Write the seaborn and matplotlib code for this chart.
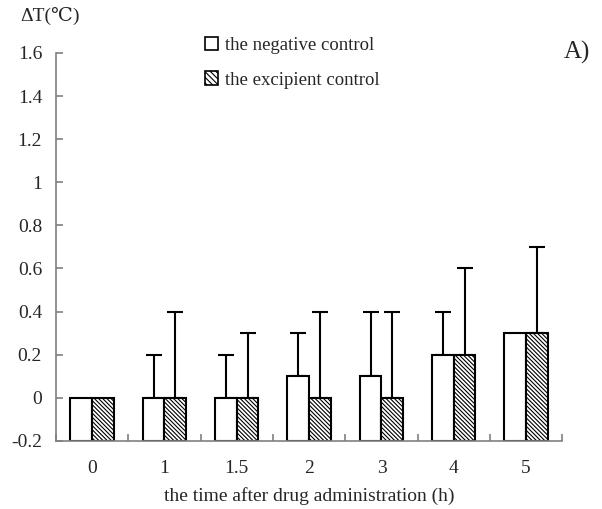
import matplotlib
matplotlib.use("Agg")
import matplotlib.pyplot as plt
import seaborn as sns
import pandas as pd
import numpy as np
from matplotlib.patches import Patch

sns.set_style("white")
plt.rcParams['font.family'] = ['Liberation Serif', 'DejaVu Serif']
plt.rcParams['hatch.linewidth'] = 0.8

times = ["0", "1", "1.5", "2", "3", "4", "5"]
negative_mean = [0, 0, 0, 0.1, 0.1, 0.2, 0.3]
negative_err = [0, 0.2, 0.2, 0.2, 0.3, 0.2, 0]
excipient_mean = [0, 0, 0, 0, 0, 0.2, 0.3]
excipient_err = [0, 0.4, 0.3, 0.4, 0.4, 0.4, 0.4]
groups = ["the negative control", "the excipient control"]
yticks = [-0.2, 0, 0.2, 0.4, 0.6, 0.8, 1.0, 1.2, 1.4, 1.6]
ytick_labels = ["-0.2", "0", "0.2", "0.4", "0.6", "0.8", "1", "1.2", "1.4", "1.6"]
y_floor = -0.2
FS = 14

df = pd.DataFrame({
    "time": times * 2,
    "value": negative_mean + excipient_mean,
    "group": [groups[0]] * len(times) + [groups[1]] * len(times),
})

fig = plt.figure(figsize=(6.02, 5.09), dpi=100)
ax = fig.add_axes([0.093, 0.134, 0.841, 0.762])

sns.barplot(data=df, x="time", y="value", hue="group", order=times,
            hue_order=groups, palette=["white", "white"], edgecolor="black",
            linewidth=1.5, width=0.6, errorbar=None, ax=ax, legend=False)

n = len(times)
patches = [p for p in ax.patches][:2 * n]
means = negative_mean + excipient_mean
errs = negative_err + excipient_err
for i, p in enumerate(patches):
    # bars rise from the bottom of the value axis, as in the original chart
    top = p.get_y() + p.get_height()
    p.set_y(y_floor)
    p.set_height(top - y_floor)
    if i >= n:
        p.set_hatch("\\" * 8)
    p.set_zorder(2)

for i, p in enumerate(patches):
    e = errs[i]
    if e > 0:
        xc = p.get_x() + p.get_width() / 2
        ax.errorbar([xc], [means[i]], yerr=[[0], [e]], fmt="none",
                    ecolor="black", elinewidth=1.5, capsize=6, capthick=1.5,
                    zorder=1)

ax.set_ylim(-0.2, 1.6)
ax.set_xlim(-0.5, n - 0.5)
ax.set_yticks(yticks)
ax.set_yticklabels(ytick_labels, fontsize=FS)
ax.tick_params(axis="y", left=True, direction="in", length=5, color="#808080", width=1.2, pad=10)
ax.set_xticks(range(n))
ax.set_xticklabels(times, fontsize=FS)
ax.tick_params(axis="x", which="major", bottom=True, length=0, pad=14)
ax.set_xticks(np.arange(-0.5, n, 1.0), minor=True)
ax.tick_params(axis="x", which="minor", bottom=True, direction="in", length=5, color="#808080", width=1.2)

for s in ["top", "right"]:
    ax.spines[s].set_visible(False)
for s in ["left", "bottom"]:
    ax.spines[s].set_color("#808080")
    ax.spines[s].set_linewidth(1.2)

ax.set_xlabel("the time after drug administration (h)", fontsize=FS, labelpad=7)
ax.set_ylabel("")

fig.text(0.033, 0.968, "ΔT(℃)", fontsize=FS, ha="left", va="center")
fig.text(0.937, 0.897, "A)", fontsize=18, ha="left", va="center")

handles = [Patch(facecolor="white", edgecolor="black", linewidth=1.2),
           Patch(facecolor="white", edgecolor="black", linewidth=1.2, hatch="\\" * 6)]
fig.legend(handles, groups, loc="upper left", bbox_to_anchor=(0.328, 0.943),
           frameon=False, fontsize=13.5, handlelength=0.7, handleheight=0.7,
           handletextpad=0.35, labelspacing=0.95, borderaxespad=0)

fig.savefig("out.png", dpi=100)
